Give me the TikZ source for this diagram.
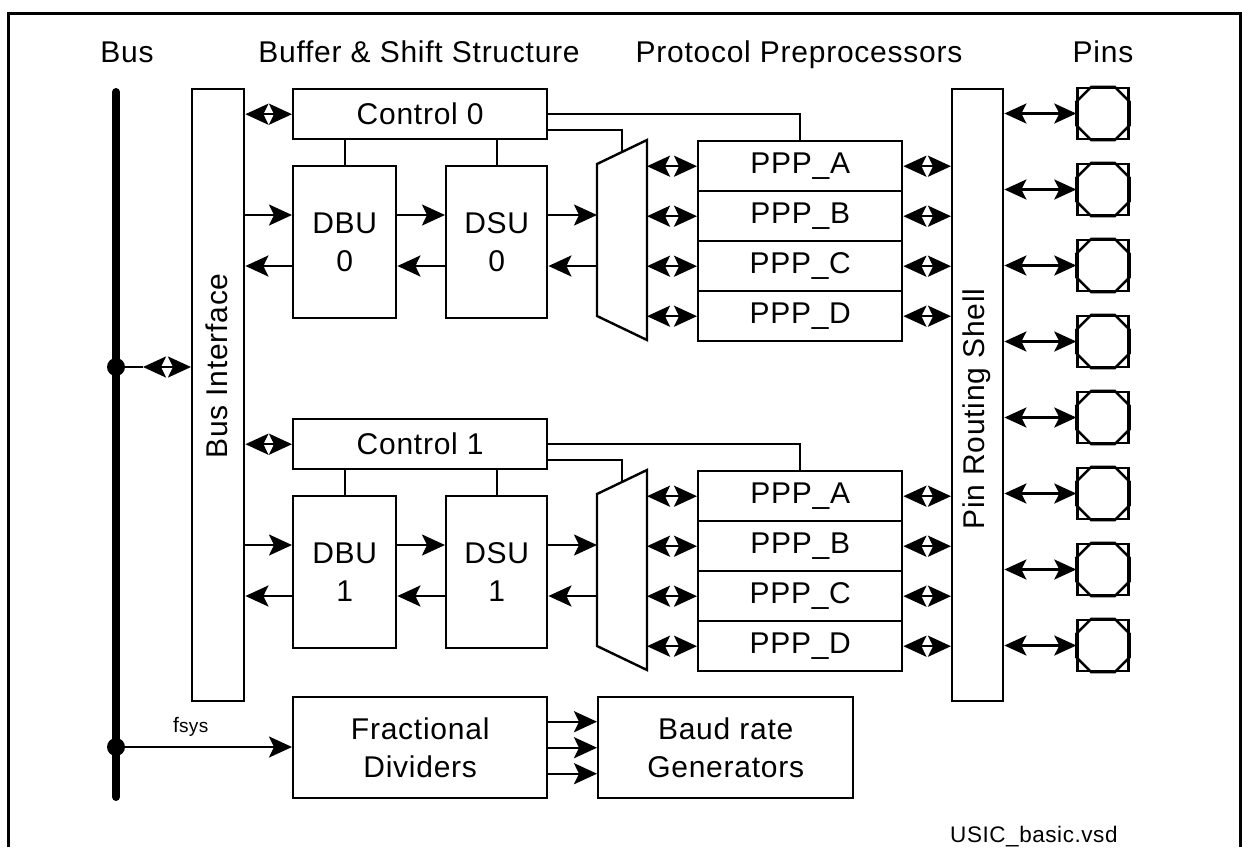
\documentclass[tikz,border=0pt]{standalone}
\usepackage{fontspec}
\setmainfont{Liberation Sans}[LetterSpace=2.5]
\usetikzlibrary{arrows.meta,calc}
\begin{document}
\begin{tikzpicture}[x=1pt,y=-1pt,
  lw/.style={line width=2.4pt},
  bigfont/.style={font=\fontsize{30}{38}\selectfont},
  box/.style={draw,lw,anchor=north west,inner sep=0pt,bigfont,align=center},
  txt/.style={bigfont,inner sep=0pt},
  arr/.style={lw,-{Stealth[length=23pt,width=21pt,inset=5pt]}},
  dbl/.style={lw,{Stealth[length=23pt,width=21pt,inset=5pt]}-{Stealth[length=23pt,width=21pt,inset=5pt]}},
  pinarr/.style={lw,{Stealth[length=22pt,width=20pt,inset=5pt]}-{Stealth[length=22pt,width=20pt,inset=5pt]}},
  dot/.style={circle,fill,inner sep=0pt,minimum size=18pt},
  pinbox/.style={draw,lw,inner sep=0pt,minimum width=51pt,minimum height=51pt},
]
\useasboundingbox (0,0) rectangle (1242,847);
% frame
\draw[line width=3pt] (8,847) -- (8,13) -- (1240,13) -- (1240,847);

% headers
\node[txt,anchor=base] (hbus) at (127,62) {Bus};
\node[txt,anchor=base] (hbuf) at (419,62) {Buffer \& Shift Structure};
\node[txt,anchor=base] (hppp) at (799,62) {Protocol Preprocessors};
\node[txt,anchor=base] (hpins) at (1103,62) {Pins};

% bus
\coordinate (bustop) at (116,92);
\coordinate (busbot) at (116,797);
\draw[line width=8pt,line cap=round] (bustop) -- (busbot);
\node[dot] (d1) at (116,367) {};
\node[dot] (d2) at (116,747) {};

% bus interface and shell
\node[box,minimum width=52pt,minimum height=612pt] (bi) at (191,88) {};
\node[txt,rotate=90] (bitext) at (217,366) {Bus Interface};
\node[box,minimum width=51pt,minimum height=612pt] (shell) at (951,88) {};
\node[txt,rotate=90] (shelltext) at (976.5,409) {Pin Routing Shell};

\coordinate (bh) at (143,367);
\draw[lw] (d1.center) -- (bh);
\draw[dbl] (bh) -- (bi.west |- d1);

\foreach \k/\dy in {0/0,1/330} {
  \node[box,minimum width=254pt,minimum height=50pt] (ctrl\k) at (292,88+\dy) {Control \k};
  \node[box,minimum width=103pt,minimum height=152pt] (dbu\k) at (292,165+\dy) {DBU\\\k};
  \node[box,minimum width=101pt,minimum height=152pt] (dsu\k) at (445,165+\dy) {DSU\\\k};
  \coordinate (mtl\k) at (597,164+\dy);
  \coordinate (mtr\k) at (647,140+\dy);
  \coordinate (mbr\k) at (647,340+\dy);
  \coordinate (mbl\k) at (597,316+\dy);
  \coordinate (mt\k) at (622,152+\dy);
  \draw[lw,line join=miter] (mtl\k) -- (mtr\k) -- (mbr\k) -- (mbl\k) -- cycle;
  \coordinate (r\k) at (0,215+\dy);
  \coordinate (l\k) at (0,266+\dy);
  \foreach \j/\n in {0/A,1/B,2/C,3/D} {
    \node[box,minimum width=204pt,minimum height=50pt] (ppp\k\n) at (697,140+\dy+50*\j) {PPP\_\n};
    \draw[dbl] (mtr\k |- ppp\k\n) -- (ppp\k\n.west);
    \draw[dbl] (ppp\k\n.east) -- (shell.west |- ppp\k\n);
  }
  % control lines
  \draw[lw] (ctrl\k.east) -- (ctrl\k.east -| ppp\k A.north) -- (ppp\k A.north);
  \draw[lw] ([yshift=-16pt]ctrl\k.east) -| (mt\k);
  \draw[lw] (dbu\k.north) -- (dbu\k.north |- ctrl\k.south);
  \draw[lw] (dsu\k.north) -- (dsu\k.north |- ctrl\k.south);
  \draw[dbl] (bi.east |- ctrl\k.west) -- (ctrl\k.west);
  % data arrows
  \draw[arr] (bi.east |- r\k) -- (dbu\k.west |- r\k);
  \draw[arr] (dbu\k.east |- r\k) -- (dsu\k.west |- r\k);
  \draw[arr] (dsu\k.east |- r\k) -- (mtl\k |- r\k);
  \draw[arr] (mbl\k |- l\k) -- (dsu\k.east |- l\k);
  \draw[arr] (dsu\k.west |- l\k) -- (dbu\k.east |- l\k);
  \draw[arr] (dbu\k.west |- l\k) -- (bi.east |- l\k);
}

% pins
\foreach \i in {0,...,7} {
  \node[pinbox] (pin\i) at (1103,{113.5+76*\i}) {};
  \draw[lw,line join=miter] ([xshift=15pt]pin\i.north west) -- ([xshift=-15pt]pin\i.north east)
     -- ([yshift=-15pt]pin\i.north east) -- ([yshift=15pt]pin\i.south east)
     -- ([xshift=-15pt]pin\i.south east) -- ([xshift=15pt]pin\i.south west)
     -- ([yshift=15pt]pin\i.south west) -- ([yshift=-15pt]pin\i.north west) -- cycle;
  \draw[pinarr] (shell.east |- pin\i) -- (pin\i.west);
}

% bottom
\node[box,minimum width=254pt,minimum height=101pt] (fd) at (292,696) {Fractional\\Dividers};
\node[box,minimum width=255pt,minimum height=101pt] (brg) at (597,696) {Baud rate\\Generators};
\draw[arr] (d2.center) -- (fd.west |- d2);
\node[inner sep=0pt,anchor=base west] (fsys) at (173,732) {\fontsize{21}{24}\selectfont f\fontsize{19}{20}\selectfont sys};
\draw[arr] ([yshift=26pt]fd.east) -- ([yshift=26pt]brg.west);
\draw[arr] (fd.east) -- (brg.west);
\draw[arr] ([yshift=-26pt]fd.east) -- ([yshift=-26pt]brg.west);

\node[inner sep=0pt,anchor=base west,font=\fontsize{22.5}{26}\selectfont] (fname) at (950,842) {USIC\_basic.vsd};
\end{tikzpicture}
\end{document}
